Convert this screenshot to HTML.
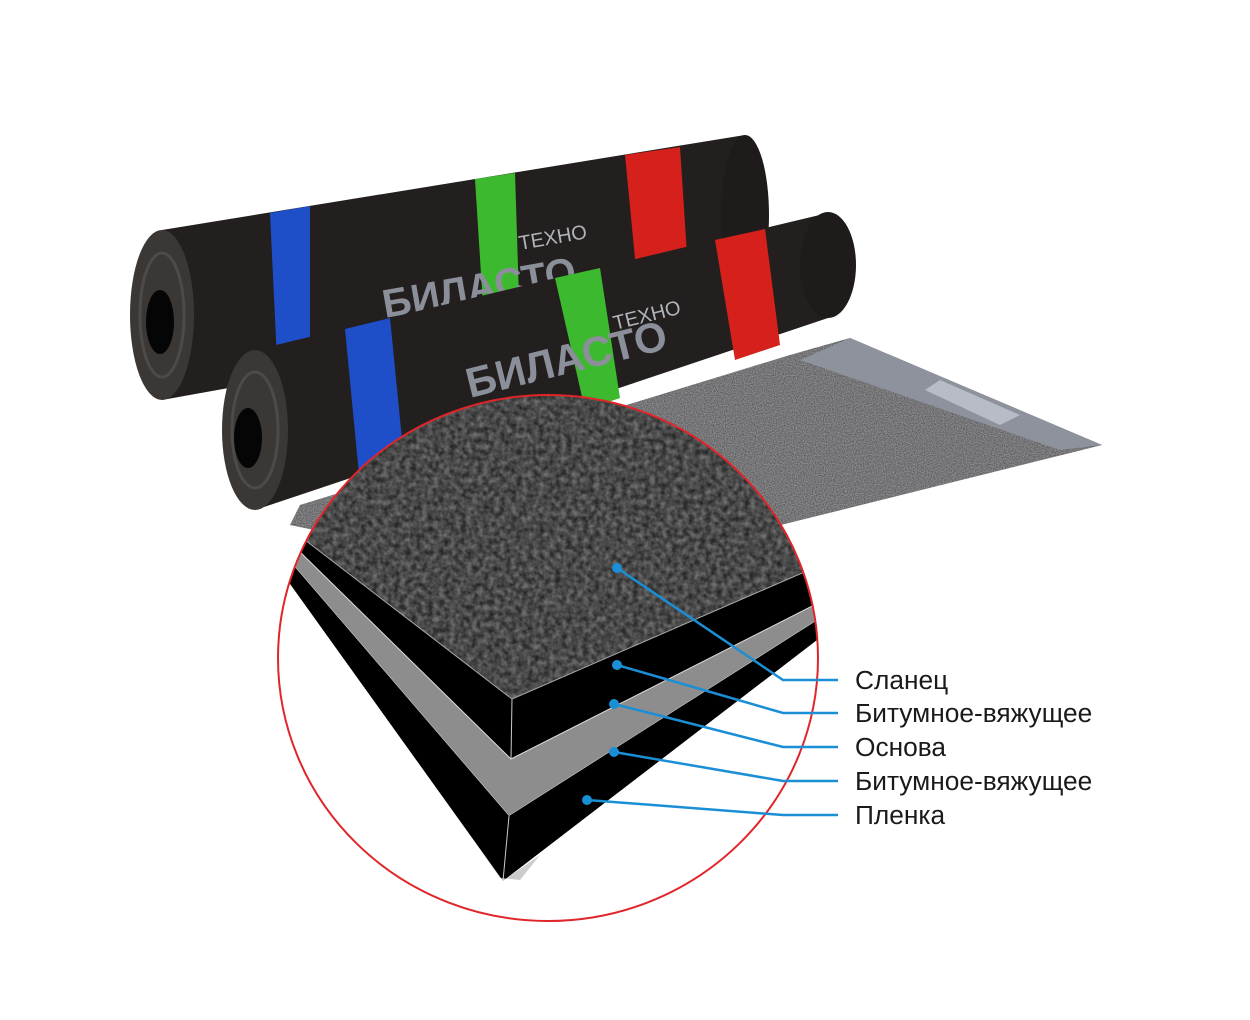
<!DOCTYPE html>
<html><head><meta charset="utf-8"><style>
html,body{margin:0;padding:0;background:#fff;width:1250px;height:1020px;overflow:hidden}
svg{display:block}
.l{font-family:"Liberation Sans",sans-serif;font-size:26.3px;fill:#1a1a1a}
</style></head><body>
<svg width="1250" height="1020" viewBox="0 0 1250 1020" xmlns="http://www.w3.org/2000/svg">
<defs>
<filter id="gr" x="0" y="0" width="100%" height="100%">
<feTurbulence type="fractalNoise" baseFrequency="0.18" numOctaves="2" seed="3"/>
<feColorMatrix type="matrix" values="0 0 0 0 0.2  0 0 0 0 0.2  0 0 0 0 0.2  1.6 0 0 0 -0.3"/>
</filter>
<filter id="fine"><feTurbulence type="fractalNoise" baseFrequency="0.9" numOctaves="1" seed="5"/>
<feColorMatrix type="matrix" values="0 0 0 0 0.45 0 0 0 0 0.45 0 0 0 0 0.47 1.2 0 0 0 -0.2"/></filter>
<clipPath id="circ"><ellipse cx="548" cy="658" rx="270" ry="263"/></clipPath>
<clipPath id="granc"><polygon points="270,390 830,390 830,562 809,570 512,699 305,540 270,520"/></clipPath>
<clipPath id="sheetc"><polygon points="790,355 850,338 1102,445 560,580 290,525 300,505"/></clipPath>
</defs>

<polygon points="790,355 850,338 1102,445 560,580 290,525 300,505" fill="#4e4e50"/>
<rect x="280" y="330" width="830" height="260" filter="url(#fine)" clip-path="url(#sheetc)"/>
<polygon points="850,338 1102,445 1060,450 800,360" fill="#8d929c"/>
<polygon points="940,380 1020,415 1000,425 925,390" fill="#b8bcc6"/>

<polygon points="162,230 745,135 745,295 162,400" fill="#231f1e"/>
<ellipse cx="745" cy="215" rx="24" ry="80" fill="#1e1b1a"/>
<polygon points="270,213 310,206 310,368 278,381" fill="#1f4fc8"/>
<polygon points="475,179 515,173 520,330 485,337" fill="#3cb92f"/>
<polygon points="625,155 680,147 690,300 640,310" fill="#d5201c"/>
<text x="385" y="318" font-family="Liberation Sans,sans-serif" font-size="40" font-weight="bold" fill="#8a8f99" transform="rotate(-10 385 318)">БИЛАСТО</text>
<text x="520" y="250" font-family="Liberation Sans,sans-serif" font-size="20" fill="#b0b4bc" transform="rotate(-10 520 250)">ТЕХНО</text>
<ellipse cx="162" cy="315" rx="32" ry="85" fill="#3a3735"/>
<ellipse cx="162" cy="315" rx="22" ry="62" fill="none" stroke="#4d4a47" stroke-width="3"/>
<ellipse cx="160" cy="322" rx="14" ry="32" fill="#050505"/>

<polygon points="255,350 828,213 828,318 255,510" fill="#231f1e"/>
<ellipse cx="828" cy="265" rx="28" ry="53" fill="#1e1b1a"/>
<polygon points="345,329 390,318 405,470 360,485" fill="#1f4fc8"/>
<polygon points="555,278 600,268 620,398 585,410" fill="#3cb92f"/>
<polygon points="715,240 765,229 780,345 735,360" fill="#d5201c"/>
<text x="470" y="398" font-family="Liberation Sans,sans-serif" font-size="42" font-weight="bold" fill="#8a8f99" transform="rotate(-14 470 398)">БИЛАСТО</text>
<text x="615" y="330" font-family="Liberation Sans,sans-serif" font-size="20" fill="#b0b4bc" transform="rotate(-14 615 330)">ТЕХНО</text>
<ellipse cx="255" cy="430" rx="33" ry="80" fill="#3a3735"/>
<ellipse cx="255" cy="430" rx="23" ry="58" fill="none" stroke="#4d4a47" stroke-width="3"/>
<ellipse cx="248" cy="438" rx="14" ry="30" fill="#050505"/>

<g clip-path="url(#circ)">
<rect x="270" y="390" width="560" height="540" fill="#fff"/>
<polygon points="270,390 830,390 830,562 809,570 512,699 305,540 270,520" fill="#262626"/>
<g clip-path="url(#granc)"><rect x="270" y="390" width="560" height="320" filter="url(#gr)" opacity="0.85"/></g>
<polygon points="305,540 512,699 809,570 830,560 830,600 511,759 300,552 280,545" fill="#000"/>
<polygon points="300,552 511,759 830,597 830,612 509,816 294,566 280,560" fill="#8d8d8d"/>
<polygon points="300,552 511,759 830,597 830,612 509,816 294,566" fill="none" stroke="#ddd" stroke-width="1"/>
<polygon points="294,566 509,816 830,612 830,630 503,881 280,570" fill="#000"/>
<polygon points="480,850 503,881 540,855 520,880 500,878" fill="#ccc"/>
<line x1="512" y1="699" x2="511" y2="759" stroke="#ccc" stroke-width="1"/>
<line x1="509" y1="816" x2="503" y2="881" stroke="#ccc" stroke-width="1"/>
<line x1="305" y1="540" x2="512" y2="699" stroke="#aaa" stroke-width="1"/>
<line x1="512" y1="699" x2="809" y2="570" stroke="#aaa" stroke-width="1"/>
</g>
<ellipse cx="548" cy="658" rx="270" ry="263" fill="none" stroke="#e0262a" stroke-width="2"/>

<g stroke="#1a8fd6" stroke-width="2.5" fill="none">
<polyline points="617,568 783,680 838,680"/>
<polyline points="617,665 783,713 838,713"/>
<polyline points="614,704 783,747 838,747"/>
<polyline points="614,752 783,781 838,781"/>
<polyline points="587,800 783,815 838,815"/>
</g>
<g fill="#1a8fd6">
<circle cx="617" cy="568" r="5"/><circle cx="617" cy="665" r="5"/><circle cx="614" cy="704" r="5"/><circle cx="614" cy="752" r="5"/><circle cx="587" cy="800" r="5"/>
</g>
<text class="l" x="855" y="689">Сланец</text>
<text class="l" x="855" y="722">Битумное-вяжущее</text>
<text class="l" x="855" y="756">Основа</text>
<text class="l" x="855" y="790">Битумное-вяжущее</text>
<text class="l" x="855" y="824">Пленка</text>
</svg>
</body></html>
